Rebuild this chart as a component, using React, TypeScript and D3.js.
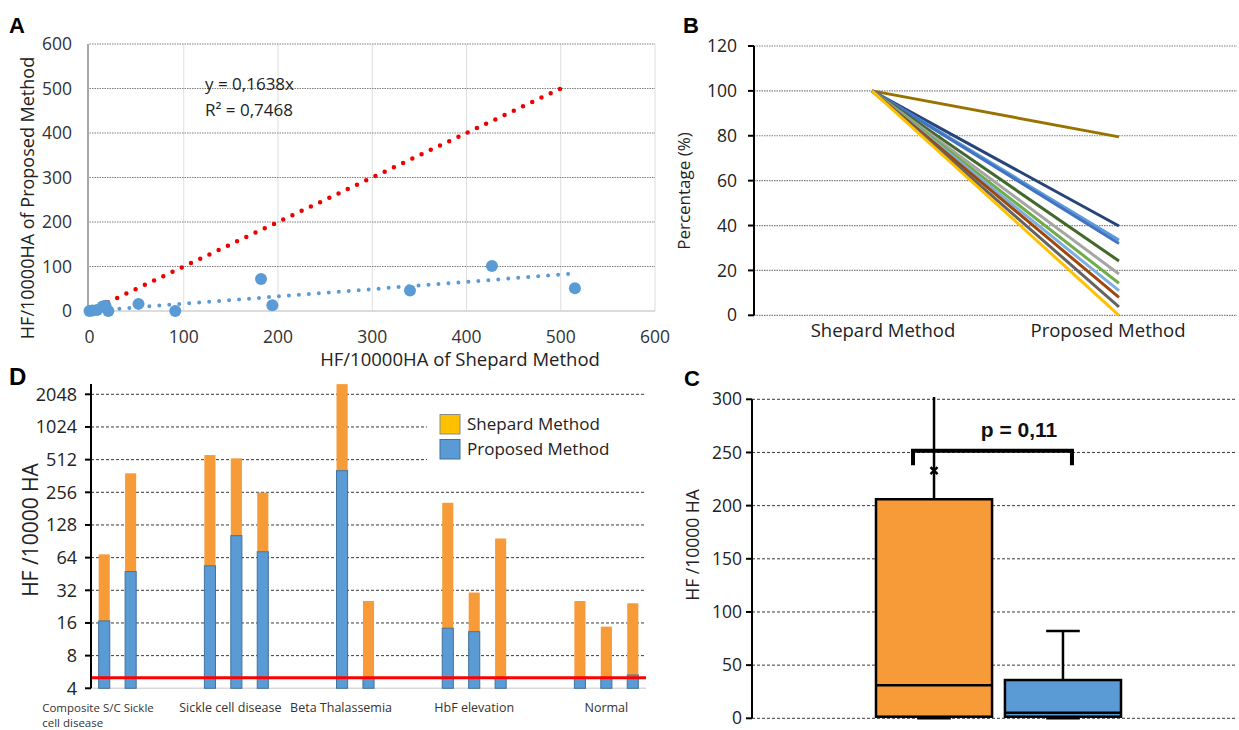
import React from 'react';
import * as d3 from 'd3';

// ---------- Panel A data ----------
const aShepard = [0, 3, 8, 14, 17, 20, 52, 91, 182, 194, 340, 427, 515];
const aProposed = [0, 1, 2, 10, 12, 0, 16, 0, 72, 13, 46, 101, 51];
const aSlope = 0.1638;
const aTrendMaxX = 515;
const aIdentityMax = 500;
const aTicks = [0, 100, 200, 300, 400, 500, 600];
const aEquation = 'y = 0,1638x';
const aR2 = 'R² = 0,7468';

// ---------- Panel B data ----------
const bCategories = ['Shepard Method', 'Proposed Method'];
const bStart = 100;
const bEnd = [79.5, 39.8, 33.5, 32, 24.2, 18.4, 14.3, 11, 8, 3.8, 0];
const bTicks = [0, 20, 40, 60, 80, 100, 120];

// ---------- Panel D data ----------
const dSlotCount = 21;
const dSlots = [0, 1, 4, 5, 6, 9, 10, 13, 14, 15, 18, 19, 20];
const dShepard = [68.6, 383, 564, 526, 254, 2540, 25.5, 205, 30.5, 96, 25.5, 14.8, 24.3];
const dProposed = [16.7, 47.6, 53.8, 102, 72.5, 405, 5, 14.3, 13.3, 5, 5, 5, 5.3];
const dGroups = ['Composite S/C Sickle cell disease', 'Sickle cell disease', 'Beta Thalassemia', 'HbF elevation', 'Normal'];
const dGroupSlots = [0, 5, 9, 14, 19];
const dTicks = [4, 8, 16, 32, 64, 128, 256, 512, 1024, 2048];
const dThreshold = 5;

// ---------- Panel C data ----------
const cSeries = ['Shepard Method', 'Proposed Method'];
const cMin = [0, 0];
const cQ1 = [1.5, 1.5];
const cMedian = [31, 5.3];
const cQ3 = [206, 36];
const cMax = [350, 82];
const cMean = [233, null];
const cTicks = [0, 50, 100, 150, 200, 250, 300];
const cPValue = 'p = 0,11';

// ---------- styles ----------
const FONT = "'Open Sans', sans-serif";
const BOLD = "'Liberation Sans', Arial, sans-serif";
const bColors = ['#997300', '#264478', '#5b9bd5', '#4472c4', '#43682b', '#a5a5a5', '#70ad47', '#7cafdd', '#9e480e', '#636363', '#ffc000'];
const ORANGE = '#F79A38';
const BLUE = '#5B9BD5';
const BLUE_EDGE = '#41719C';

function PanelA() {
  const x = d3.scaleLinear().domain([0, 600]).range([89.5, 655]);
  const y = d3.scaleLinear().domain([0, 600]).range([311, 44]);
  const line = d3.line<[number, number]>().x(d => x(d[0])).y(d => y(d[1]));
  return (
    <g>
      {aTicks.slice(1).map(t => (
        <line key={'v' + t} x1={x(t)} x2={x(t)} y1={y(0)} y2={y(600)} stroke="#dedede" strokeWidth={1} />
      ))}
      {aTicks.slice(1).map(t => (
        <line key={'h' + t} x1={x(0)} x2={x(600)} y1={y(t)} y2={y(t)} stroke="#7f7f7f" strokeWidth={1.2} strokeDasharray="1.5 1" />
      ))}
      <line x1={x(0)} x2={x(600)} y1={y(0)} y2={y(0)} stroke="#d0d0d0" strokeWidth={1.5} />
      <line x1={88} x2={88} y1={y(0)} y2={y(600)} stroke="#8a8a8a" strokeWidth={1.5} />
      {aTicks.map(t => (
        <text key={'yl' + t} x={72} y={y(t)} dy="0.35em" textAnchor="end" fontFamily={FONT} fontSize={17.5} fill="#333">{t}</text>
      ))}
      {aTicks.map(t => (
        <text key={'xl' + t} x={x(t)} y={343} textAnchor="middle" fontFamily={FONT} fontSize={17.5} fill="#333">{t}</text>
      ))}
      <path d={line([[0, 0], [aIdentityMax, aIdentityMax]]) || ''} stroke="#ee0000" strokeWidth={4.5} strokeDasharray="0 10.2" strokeLinecap="round" fill="none" />
      <path d={line([[0, 0], [aTrendMaxX, aSlope * aTrendMaxX]]) || ''} stroke={BLUE} strokeWidth={4} strokeDasharray="0 10" strokeLinecap="round" fill="none" />
      {aShepard.map((v, i) => (
        <circle key={'p' + i} cx={x(v)} cy={y(aProposed[i])} r={6} fill={BLUE} />
      ))}
      <text x={205} y={90} fontFamily={FONT} fontSize={17} fill="#222">{aEquation}</text>
      <text x={205} y={116} fontFamily={FONT} fontSize={17} fill="#222">{aR2}</text>
      <text transform="translate(34,198) rotate(-90)" textAnchor="middle" fontFamily={FONT} fontSize={18} fill="#222">HF/10000HA  of Proposed Method</text>
      <text x={460} y={366} textAnchor="middle" fontFamily={FONT} fontSize={18.5} fill="#222">HF/10000HA of Shepard Method</text>
      <text x={9} y={33} fontFamily={BOLD} fontWeight="bold" fontSize={22} fill="#000">A</text>
    </g>
  );
}

function PanelB() {
  const y = d3.scaleLinear().domain([0, 120]).range([315.3, 46]);
  const x = d3.scalePoint<string>().domain(bCategories).range([754, 1237]).padding(0.478);
  const xl = d3.scaleBand<string>().domain(bCategories).range([754, 1237]).paddingOuter(0.073);
  const line = d3.line<[string, number]>().x(d => x(d[0]) as number).y(d => y(d[1]));
  return (
    <g>
      {bTicks.map(t => (
        <line key={'g' + t} x1={754} x2={1237} y1={y(t)} y2={y(t)} stroke="#7f7f7f" strokeWidth={1.2} strokeDasharray="1.5 1" />
      ))}
      {bEnd.map((v, i) => (
        <path key={'l' + i} d={line([[bCategories[0], bStart], [bCategories[1], v]]) || ''} stroke={bColors[i]} strokeWidth={3} fill="none" />
      ))}
      <line x1={754} x2={754} y1={y(120)} y2={y(0)} stroke="#000" strokeWidth={2} />
      {bTicks.map(t => (
        <g key={'t' + t}>
          <line x1={748} x2={754} y1={y(t)} y2={y(t)} stroke="#000" strokeWidth={2} />
          <text x={737} y={y(t)} dy="0.35em" textAnchor="end" fontFamily={FONT} fontSize={17.5} fill="#222">{t}</text>
        </g>
      ))}
      {bCategories.map(c => (
        <text key={c} x={(xl(c) as number) + xl.bandwidth() / 2} y={337} textAnchor="middle" fontFamily={FONT} fontSize={18.5} fill="#222">{c}</text>
      ))}
      <text transform="translate(690,191) rotate(-90)" textAnchor="middle" fontFamily={FONT} fontSize={17} fill="#222">Percentage (%)</text>
      <text x={683} y={33} fontFamily={BOLD} fontWeight="bold" fontSize={22} fill="#000">B</text>
    </g>
  );
}

function PanelD() {
  const y = d3.scaleLog().base(2).domain([4, 2048]).range([688.3, 394.3]);
  const x = d3.scaleBand<number>().domain(d3.range(dSlotCount)).range([91, 646]).paddingInner(0.58).paddingOuter(0.29);
  const bw = x.bandwidth();
  const center = (s: number) => (x(s) as number) + bw / 2;
  return (
    <g>
      {dTicks.slice(1).map(t => (
        <line key={'g' + t} x1={91} x2={646} y1={y(t)} y2={y(t)} stroke="#3a3a3a" strokeWidth={1} strokeDasharray="3 2" />
      ))}
      <line x1={91} x2={646} y1={y(4)} y2={y(4)} stroke="#d9d9d9" strokeWidth={1.5} />
      {dSlots.map((s, i) => (
        <g key={'b' + i}>
          <rect x={x(s)} width={bw} y={y(dShepard[i])} height={y(dProposed[i]) - y(dShepard[i])} fill={ORANGE} />
          <rect x={x(s)} width={bw} y={y(dProposed[i])} height={y(4) - y(dProposed[i])} fill={BLUE} stroke={BLUE_EDGE} strokeWidth={1} />
        </g>
      ))}
      <line x1={91} x2={646} y1={y(dThreshold)} y2={y(dThreshold)} stroke="#ff0000" strokeWidth={3} />
      <line x1={91} x2={91} y1={384} y2={y(4)} stroke="#000" strokeWidth={2} />
      {dTicks.map(t => (
        <g key={'t' + t}>
          <line x1={85} x2={91} y1={y(t)} y2={y(t)} stroke="#000" strokeWidth={2} />
          <text x={77} y={y(t)} dy="0.35em" textAnchor="end" fontFamily={FONT} fontSize={18} fill="#222">{t}</text>
        </g>
      ))}
      {dGroups.map((g, i) => {
        const cx = center(dGroupSlots[i]);
        if (i === 0) {
          return (
            <text key={g} fontFamily={FONT} fontSize={11.5} fill="#333">
              <tspan x={cx - 62} y={711.5}>Composite S/C Sickle</tspan>
              <tspan x={cx - 62} y={726.5}>cell disease</tspan>
            </text>
          );
        }
        const shift = i === 1 ? -6 : i === 2 ? -1 : 0;
        return <text key={g} x={cx + shift} y={711.5} textAnchor="middle" fontFamily={FONT} fontSize={12.5} fill="#333">{g}</text>;
      })}
      <rect x={427} y={405} width={218} height={60} fill="#fff" />
      <rect x={440} y={414.5} width={20} height={19.5} fill="#FFC000" stroke="#8a8a8a" strokeWidth={1} />
      <rect x={440} y={439.5} width={20} height={19.5} fill={BLUE} stroke={BLUE_EDGE} strokeWidth={1} />
      <text x={467} y={430} fontFamily={FONT} fontSize={17} fill="#222">{cSeries[0]}</text>
      <text x={467} y={455} fontFamily={FONT} fontSize={17} fill="#222">{cSeries[1]}</text>
      <text transform="translate(38,530) rotate(-90)" textAnchor="middle" fontFamily={FONT} fontSize={21} fill="#222">HF /10000 HA</text>
      <text x={9} y={385} fontFamily={BOLD} fontWeight="bold" fontSize={24} fill="#000">D</text>
    </g>
  );
}

function PanelC() {
  const y = d3.scaleLinear().domain([0, 300]).range([718.3, 399.3]);
  const x = d3.scaleBand<string>().domain(cSeries).range([876, 1121]).paddingInner(0.1);
  const bw = x.bandwidth();
  const capW = bw * 0.29;
  const fills = [ORANGE, BLUE];
  const c0 = (x(cSeries[0]) as number) + bw / 2;
  const c1 = (x(cSeries[1]) as number) + bw / 2;
  const bracketY = y(251.5);
  const legY = y(238);
  return (
    <g>
      <defs>
        <clipPath id="cclip"><rect x={752} y={397} width={490} height={330} /></clipPath>
      </defs>
      {cTicks.map(t => (
        <line key={'g' + t} x1={752} x2={1236} y1={y(t)} y2={y(t)} stroke="#3a3a3a" strokeWidth={1} strokeDasharray="3 2" />
      ))}
      <g clipPath="url(#cclip)">
        {cSeries.map((s, i) => {
          const cx = (x(s) as number) + bw / 2;
          return (
            <g key={s}>
              <line x1={cx} x2={cx} y1={y(cMax[i])} y2={y(cQ3[i])} stroke="#000" strokeWidth={2.5} />
              <line x1={cx - capW / 2} x2={cx + capW / 2} y1={y(cMax[i])} y2={y(cMax[i])} stroke="#000" strokeWidth={2.5} />
              <line x1={cx} x2={cx} y1={y(cMin[i])} y2={y(cQ1[i])} stroke="#000" strokeWidth={2.5} />
              <line x1={cx - capW / 2} x2={cx + capW / 2} y1={y(cMin[i])} y2={y(cMin[i])} stroke="#000" strokeWidth={2.5} />
              <rect x={x(s)} width={bw} y={y(cQ3[i])} height={y(cQ1[i]) - y(cQ3[i])} fill={fills[i]} stroke="#000" strokeWidth={2.5} />
              <line x1={x(s)} x2={(x(s) as number) + bw} y1={y(cMedian[i])} y2={y(cMedian[i])} stroke="#000" strokeWidth={2.5} />
              {cMean[i] != null && (
                <path d={`M${cx - 3.5},${y(cMean[i] as number) - 3.5}L${cx + 3.5},${y(cMean[i] as number) + 3.5}M${cx + 3.5},${y(cMean[i] as number) - 3.5}L${cx - 3.5},${y(cMean[i] as number) + 3.5}`} stroke="#000" strokeWidth={2.5} />
              )}
            </g>
          );
        })}
      </g>
      <path d={`M${c0 - 21},${legY}V${bracketY}H${c1 + 9}V${legY}`} stroke="#000" strokeWidth={4} fill="none" />
      <text x={1019} y={437} textAnchor="middle" fontFamily={BOLD} fontWeight="bold" fontSize={21} fill="#111">{cPValue}</text>
      <line x1={752} x2={752} y1={y(300)} y2={y(0)} stroke="#000" strokeWidth={2} />
      {cTicks.map(t => (
        <g key={'t' + t}>
          <line x1={746} x2={752} y1={y(t)} y2={y(t)} stroke="#000" strokeWidth={2} />
          <text x={742} y={y(t)} dy="0.35em" textAnchor="end" fontFamily={FONT} fontSize={17.5} fill="#222">{t}</text>
        </g>
      ))}
      <text transform="translate(699,545) rotate(-90)" textAnchor="middle" fontFamily={FONT} fontSize={17.5} fill="#222">HF /10000 HA</text>
      <text x={684} y={386} fontFamily={BOLD} fontWeight="bold" fontSize={22} fill="#000">C</text>
    </g>
  );
}

export default function App() {
  return (
    <svg width={1239} height={730} style={{ position: 'absolute', left: 0, top: 0, background: '#fff' }}>
      <rect width={1239} height={730} fill="#fff" />
      <PanelA />
      <PanelB />
      <PanelD />
      <PanelC />
    </svg>
  );
}
